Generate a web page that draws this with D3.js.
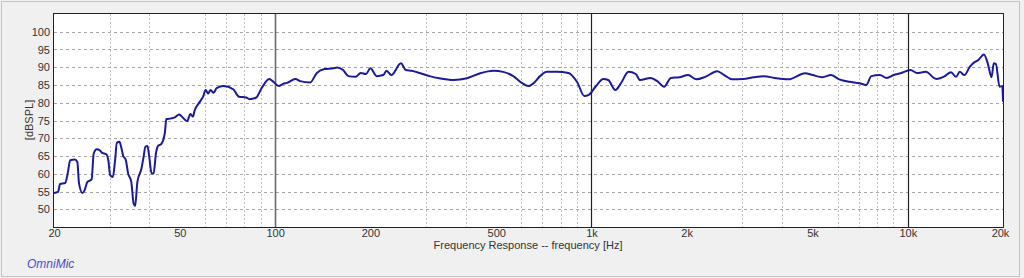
<!DOCTYPE html>
<html>
<head>
  <meta charset="utf-8">
  <style type="text/css">
  body {
    margin: 0;
    background: #f0f0f0;
    font-family: "Liberation Sans", Arial, sans-serif;
  }
  .tick text {
    font-size: 11px;
    fill: #333;
  }
  .axis path, .axis line {
    display: none;
  }
  </style>
</head>
<body>
  <script src="https://d3js.org/d3.v7.min.js"></script>
  <script>
    // frequency response
    var freq = [20, 20.6, 20.9, 21.7, 22.1, 22.5, 23.3, 23.7, 24.0, 24.6, 25.0, 25.5, 26.3, 26.7, 27.3, 27.9, 28.3, 29.3, 29.7, 30.1, 30.7, 31.2, 31.6, 32.2, 32.6, 33.1, 33.7, 34.3, 35.1, 35.7, 36.1, 36.7, 37.8, 38.4, 38.9, 39.5, 40.0, 40.7, 41.3, 42.0, 42.7, 43.6, 44.8, 45.3, 47.0, 48.2, 49.7, 50.6, 52.7, 54.0, 55.0, 55.7, 57.1, 59.2, 60.3, 61.4, 62.5, 63.9, 65.3, 68.7, 73.7, 76.9, 81, 83, 87, 90.6, 95.8, 98.8, 102.6, 105.9, 109.1, 115.9, 120, 129, 135.5, 143.3, 152.6, 157, 164, 170.5, 179.6, 186.5, 193.8, 200, 209.7, 219.7, 225, 233, 250, 259, 270, 288, 308, 330, 367, 404, 445, 490, 526, 566, 602, 632, 656, 688, 722, 777, 846, 900, 950, 980, 1030, 1090, 1130, 1190, 1236, 1310, 1380, 1425, 1535, 1614, 1697, 1783, 1897, 2020, 2150, 2290, 2500, 2630, 2780, 3020, 3260, 3510, 3790, 4190, 4740, 5000, 5370, 5710, 6070, 6540, 7040, 7390, 7670, 8160, 8580, 9020, 9480, 10200, 10700, 11400, 12300, 13100, 13700, 14200, 14600, 15100, 15700, 16300, 16700, 17400, 17900, 18400, 18700, 19000, 19500, 19900, 20000];
    var spl = [54.6, 54.9, 57.1, 57.4, 60.1, 63.8, 64.0, 63.3, 57.2, 54.6, 55.4, 57.7, 58.4, 65.7, 66.9, 66.6, 66.0, 65.4, 63.8, 59.6, 59.1, 63.8, 68.7, 69.0, 67.6, 65.0, 64.0, 60.1, 57.7, 51.6, 50.9, 57.7, 61.5, 64.8, 67.6, 67.8, 64.8, 60.1, 60.1, 65.7, 67.9, 68.3, 71.4, 75.4, 75.6, 75.9, 76.7, 76.2, 74.8, 76.8, 76.1, 77.9, 79.6, 81.7, 83.6, 82.6, 83.6, 82.8, 84.1, 84.7, 83.8, 81.7, 81.5, 81.0, 81.4, 84.1, 86.7, 85.9, 84.7, 85.3, 85.6, 86.7, 86.1, 85.7, 88.4, 89.5, 89.7, 89.9, 89.2, 87.5, 87.3, 88.4, 88.1, 89.7, 87.5, 87.8, 89.0, 87.8, 91.1, 89.2, 89.0, 88.3, 87.5, 86.9, 86.4, 86.9, 88.3, 89.0, 88.7, 87.5, 85.6, 84.7, 85.5, 87.5, 88.7, 88.7, 88.4, 85.9, 81.9, 82.2, 84.5, 86.7, 86.4, 83.6, 85.3, 88.7, 88.1, 86.4, 87.0, 86.1, 84.5, 87.0, 87.2, 87.8, 86.6, 87.3, 88.9, 87.8, 86.6, 86.7, 87.2, 87.5, 87.0, 86.6, 88.3, 87.8, 87.2, 87.8, 86.6, 85.9, 85.5, 85.0, 87.5, 87.8, 87.0, 87.8, 88.3, 89.2, 88.4, 88.7, 86.7, 87.5, 88.6, 87.3, 88.7, 87.8, 90.1, 91.5, 92.0, 93.6, 91.1, 87.2, 91.1, 90.9, 84.5, 84.7, 80.3];

    var xTicks = [20, 50, 100, 200, 500, 1000, 2000, 5000, 10000, 20000];
    var xTickLabels = ["20", "50", "100", "200", "500", "1k", "2k", "5k", "10k", "20k"];
    var yTicks = [50, 55, 60, 65, 70, 75, 80, 85, 90, 95, 100];
    var minorGrid = [30, 40, 60, 70, 80, 90, 300, 400, 600, 700, 800, 900,
                     3000, 4000, 6000, 7000, 8000, 9000];
    var majorGrid = [100, 1000, 10000];

    var W = 1024, H = 278;
    var margin = {top: 14, right: 21, bottom: 51, left: 54};
    var width = W - margin.left - margin.right,
        height = H - margin.top - margin.bottom;

    var x = d3.scaleLog()
        .domain([20, 20000])
        .range([0, width]);
    var y = d3.scaleLinear()
        .domain([45, 105])
        .range([height, 0]);

    var root = d3.select("body").append("svg")
        .attr("width", W)
        .attr("height", H);

    // outer panel frame
    root.append("rect")
        .attr("x", 1.5).attr("y", 1.5)
        .attr("width", W - 6).attr("height", H - 3)
        .attr("fill", "#f0f0f0")
        .attr("stroke", "#c4c4c4");

    var svg = root.append("g")
        .attr("transform", "translate(" + margin.left + "," + margin.top + ")");

    svg.append("rect")
        .attr("width", width)
        .attr("height", height)
        .attr("fill", "#fff");

    // grid
    svg.selectAll(".minor")
        .data(minorGrid)
      .enter().append("line")
        .attr("x1", function(d) { return Math.round(x(d)) + 0.5; })
        .attr("x2", function(d) { return Math.round(x(d)) + 0.5; })
        .attr("y1", 0).attr("y2", height)
        .attr("stroke", "#c2c2c2")
        .attr("stroke-dasharray", "2,2");
    svg.selectAll(".hgrid")
        .data(yTicks)
      .enter().append("line")
        .attr("x1", 0).attr("x2", width)
        .attr("y1", function(d) { return Math.round(y(d)) + 0.5; })
        .attr("y2", function(d) { return Math.round(y(d)) + 0.5; })
        .attr("stroke", "#a6a6a6")
        .attr("stroke-dasharray", "3,3");
    svg.selectAll(".major")
        .data(majorGrid)
      .enter().append("line")
        .attr("x1", function(d) { return Math.round(x(d)) + 0.5; })
        .attr("x2", function(d) { return Math.round(x(d)) + 0.5; })
        .attr("y1", 0).attr("y2", height)
        .attr("stroke", function(d) { return d === 100 ? "#6a6a6a" : "#222"; })
        .attr("stroke-width", function(d) { return d === 100 ? 1.6 : 1.2; });

    // axes
    var xAxis = d3.axisBottom(x)
        .tickValues(xTicks)
        .tickFormat(function(d, i) { return xTickLabels[i]; })
        .tickSize(0)
        .tickPadding(2);
    var yAxis = d3.axisLeft(y)
        .tickValues(yTicks)
        .tickSize(0)
        .tickPadding(4);
    svg.append("g")
        .attr("class", "x axis")
        .attr("transform", "translate(0," + height + ")")
        .call(xAxis);
    svg.append("g")
        .attr("class", "y axis")
        .call(yAxis);
    // last label sits just inside the right edge, as in the reference
    svg.select(".x.axis").selectAll(".tick text")
        .filter(function(d) { return d === 20000; })
        .attr("dx", -3);

    // curve
    var line = d3.line()
        .x(function(d, i) { return x(freq[i]); })
        .y(function(d) { return y(d); })
        .curve(d3.curveMonotoneX);
    svg.append("path")
        .datum(spl)
        .attr("d", line)
        .attr("fill", "none")
        .attr("stroke", "#1a1a9a")
        .attr("stroke-width", 2)
        .attr("stroke-linejoin", "round");

    // plot border
    svg.append("rect")
        .attr("x", -0.5).attr("y", -0.5)
        .attr("width", width + 1)
        .attr("height", height + 1)
        .attr("fill", "none")
        .attr("stroke", "#222");

    // titles
    root.append("text")
        .attr("x", 528)
        .attr("y", 249)
        .attr("text-anchor", "middle")
        .style("font-size", "11px")
        .style("fill", "#333")
        .text("Frequency Response -- frequency [Hz]");
    root.append("text")
        .attr("transform", "translate(33,120) rotate(-90)")
        .attr("text-anchor", "middle")
        .style("font-size", "11px")
        .style("fill", "#333")
        .text("[dBSPL]");
    root.append("text")
        .attr("x", 27)
        .attr("y", 268)
        .style("font-size", "12px")
        .style("font-style", "italic")
        .style("fill", "#4a4ac8")
        .text("OmniMic");
  </script>
</body>
</html>
